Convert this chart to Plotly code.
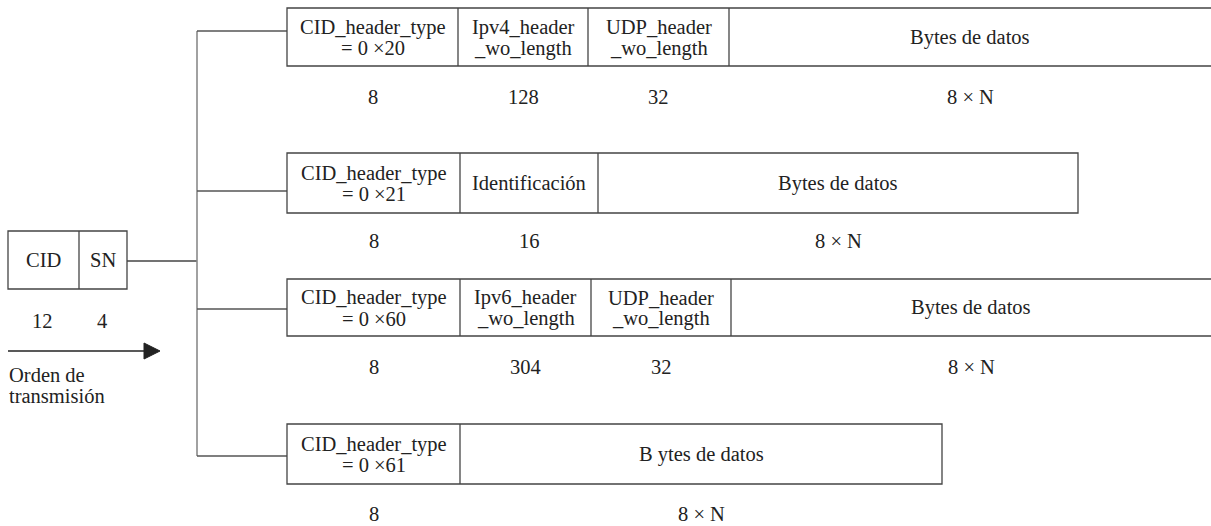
import plotly.graph_objects as go

# ---------------- data ----------------
left_fields = ["CID", "SN"]
left_bits = ["12", "4"]

row1_fields = [["CID_header_type", "= 0 ×20"], ["Ipv4_header", "_wo_length"], ["UDP_header", "_wo_length"], ["Bytes de datos"]]
row1_bits = ["8", "128", "32", "8 × N"]

row2_fields = [["CID_header_type", "= 0 ×21"], ["Identificación"], ["Bytes de datos"]]
row2_bits = ["8", "16", "8 × N"]

row3_fields = [["CID_header_type", "= 0 ×60"], ["Ipv6_header", "_wo_length"], ["UDP_header", "_wo_length"], ["Bytes de datos"]]
row3_bits = ["8", "304", "32", "8 × N"]

row4_fields = [["CID_header_type", "= 0 ×61"], ["B ytes de datos"]]
row4_bits = ["8", "8 × N"]

order_label = ["Orden de", "transmisión"]

# ---------------- layout geometry ----------------
W, H = 1211, 526
FONT = "Liberation Serif, Times New Roman, serif"
FS = 20.5
TXT = "#222222"
BOX = "#444444"
CON = "#8a8a8a"

rows = [
    dict(fields=row1_fields, bits=row1_bits, edges=[287, 458, 588, 729, 1214], y0=8, y1=66, by=31, ly=97),
    dict(fields=row2_fields, bits=row2_bits, edges=[287, 460, 598, 1078], y0=153, y1=213, by=191, ly=241),
    dict(fields=row3_fields, bits=row3_bits, edges=[287, 460, 591, 731, 1214], y0=279, y1=336, by=309, ly=367),
    dict(fields=row4_fields, bits=row4_bits, edges=[287, 460, 942], y0=424, y1=484, by=456, ly=514),
]

shapes = []
annotations = []


def line(x0, y0, x1, y1, color, w=1.3):
    shapes.append(dict(type="line", x0=x0, y0=y0, x1=x1, y1=y1, xref="x", yref="y",
                       line=dict(color=color, width=w)))


def rect(x0, y0, x1, y1, color=BOX, w=1.3):
    shapes.append(dict(type="rect", x0=x0, y0=y0, x1=x1, y1=y1, xref="x", yref="y",
                       line=dict(color=color, width=w), fillcolor="rgba(0,0,0,0)"))


def text(x, y, s, xanchor="center", size=FS):
    annotations.append(dict(x=x, y=y, xref="x", yref="y", text=s, showarrow=False,
                            xanchor=xanchor, yanchor="middle",
                            font=dict(family=FONT, size=size, color=TXT)))


# left CID/SN box
left_edges = [8, 79, 127]
rect(left_edges[0], 231, left_edges[-1], 289)
line(left_edges[1], 231, left_edges[1], 289, BOX)
for i, (f, b) in enumerate(zip(left_fields, left_bits)):
    cx = (left_edges[i] + left_edges[i + 1]) / 2
    text(cx, 260, f)
    text(cx - 1, 321, b)

# connectors
VX = 197
line(127, 261, VX, 261, BOX)
line(VX, rows[0]["by"], VX, rows[-1]["by"], CON, 1.6)
for r in rows:
    line(VX, r["by"], r["edges"][0], r["by"], "#555555", 1.3)

# transmission arrow
line(8, 351, 146, 351, "#222222", 1.3)
shapes.append(dict(type="path", path="M 144 343 L 160 351 L 144 359 Z", xref="x", yref="y",
                   fillcolor="#222222", line=dict(color="#222222", width=1)))
text(7, 375, order_label[0], xanchor="left")
text(7, 396, order_label[1], xanchor="left")

# frames
for r in rows:
    e = r["edges"]
    rect(e[0], r["y0"], e[-1], r["y1"])
    for xd in e[1:-1]:
        line(xd, r["y0"], xd, r["y1"], BOX)
    cy = (r["y0"] + r["y1"]) / 2
    for i, (f, b) in enumerate(zip(r["fields"], r["bits"])):
        x1 = min(e[i + 1], W)
        cx = (e[i] + x1) / 2
        if len(f) == 1:
            text(cx, cy, f[0])
        else:
            text(cx, cy - 10, f[0])
            text(cx, cy + 11, f[1])
        text(cx, r["ly"], b)

fig = go.Figure()
fig.add_trace(go.Scatter(x=[0, W], y=[0, H], mode="markers", marker=dict(opacity=0),
                         hoverinfo="skip", showlegend=False))
fig.update_layout(
    width=W, height=H, margin=dict(l=0, r=0, t=0, b=0),
    paper_bgcolor="white", plot_bgcolor="white",
    xaxis=dict(range=[0, W], visible=False, fixedrange=True),
    yaxis=dict(range=[H, 0], visible=False, fixedrange=True),
    shapes=shapes, annotations=annotations, showlegend=False,
)
fig.write_html("out.html", config={"displayModeBar": False},
               post_script="document.body.style.margin='0';")
